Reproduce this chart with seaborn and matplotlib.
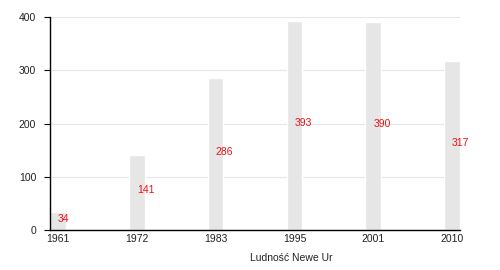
import matplotlib
matplotlib.use("Agg")
import matplotlib.pyplot as plt
import seaborn as sns
import pandas as pd

years = ["1961", "1972", "1983", "1995", "2001", "2010"]
population = [34, 141, 286, 393, 390, 317]
x_title = "Ludność Newe Ur"

sns.set_theme(style="white")
plt.rcParams["font.family"] = ["Liberation Sans", "DejaVu Sans"]

df = pd.DataFrame({"year": years, "pop": population})

fig = plt.figure(figsize=(5, 2.7), dpi=100)
ax = fig.add_axes([0.1, 0.148, 0.82, 0.789])

sns.barplot(data=df, x="year", y="pop", order=years, color="#e6e6e6",
            width=0.2, saturation=1, ax=ax, zorder=2)

ax.set_xlim(-0.1, len(years) - 0.9)
ax.set_ylim(0, 400)
ax.set_yticks([0, 100, 200, 300, 400])
ax.yaxis.grid(True, color="#e6e6e6", linewidth=0.8, zorder=0)
ax.set_axisbelow(True)

for s in ["top", "right"]:
    ax.spines[s].set_visible(False)
for s in ["left", "bottom"]:
    ax.spines[s].set_color("black")
    ax.spines[s].set_linewidth(1.0)

ax.tick_params(axis="y", length=4, width=0.8, color="black", pad=6,
               labelsize=7.5, labelcolor="#222222", left=True)
ax.tick_params(axis="x", length=0, pad=3, labelsize=7.5, labelcolor="#222222")

for i, v in enumerate(population):
    ax.text(i, v / 2 + 4, str(v), color="#f01010", fontsize=7.5,
            ha="left", va="center")

ax.set_ylabel("")
ax.set_xlabel(x_title, fontsize=7.5, color="#222222", ha="left", x=0.488,
              labelpad=6)

fig.savefig("out.png", dpi=100)
